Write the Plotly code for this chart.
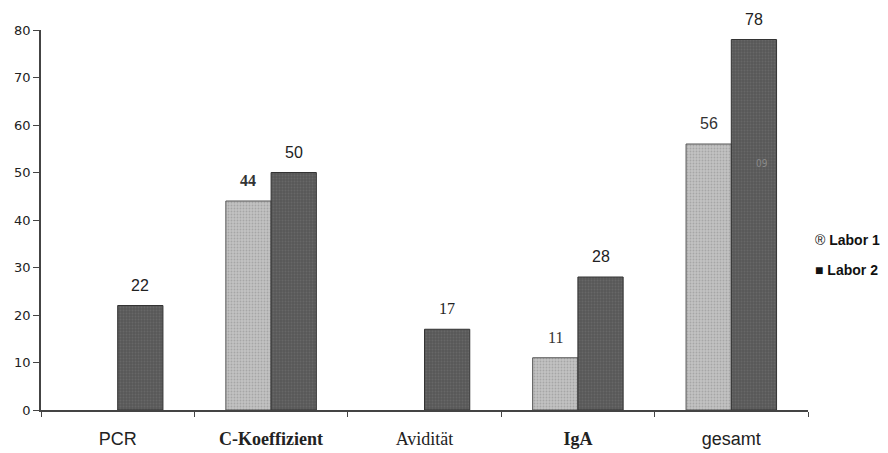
import plotly.graph_objects as go

categories = ["PCR", "C-Koeffizient", "Avidität", "IgA", "gesamt"]
tick_labels = [
    "<span style='font-family:Liberation Sans'>PCR</span>",
    "<b>C-Koeffizient</b>",
    "Avidität",
    "<b>IgA</b>",
    "<span style='font-family:Liberation Sans'>gesamt</span>",
]
labor1 = [None, 44, None, 11, 56]
labor2 = [22, 50, 17, 28, 78]
labor1_text = ["", "<b>44</b>", "", "11", "56"]
labor1_font = ["Liberation Serif", "Liberation Serif", "Liberation Serif", "Liberation Serif", "Liberation Sans"]
labor2_text = ["22", "50", "17", "28", "78"]
labor2_font = ["Liberation Sans", "Liberation Sans", "Liberation Serif", "Liberation Sans", "Liberation Sans"]

# page offset of plotly div (default body margin)
OFF = 8
W, H = 880, 445
L, R, T, B = 33, 80, 22, 43
BARGAP = 0.41

fig = go.Figure()
fig.add_trace(go.Bar(
    name="Labor 1", x=categories, y=labor1,
    marker=dict(color="#c2c2c2", line=dict(color="#555555", width=1),
                pattern=dict(shape=".", fgcolor="#8a8a8a", size=3, solidity=0.3)),
))
fig.add_trace(go.Bar(
    name="Labor 2", x=categories, y=labor2,
    marker=dict(color="#585858", line=dict(color="#333333", width=1),
                pattern=dict(shape=".", fgcolor="#757575", size=3, solidity=0.3)),
))

pw = W - L - R
ph = H - T - B
cat_w = pw / len(categories)
bar_off = (1 - BARGAP) * cat_w / 4


def px_to_paper(px, py):
    return ((px - OFF - L) / pw, 1 - (py - OFF - T) / ph)


annotations = []
for cat, val, txt, fam in zip(categories, labor1, labor1_text, labor1_font):
    if val is not None:
        annotations.append(dict(text=txt, x=cat, y=val, xref="x", yref="y",
                                xshift=-bar_off, yshift=10, yanchor="bottom",
                                showarrow=False,
                                font=dict(size=16, family=fam, color="#333333")))
for cat, val, txt, fam in zip(categories, labor2, labor2_text, labor2_font):
    annotations.append(dict(text=txt, x=cat, y=val, xref="x", yref="y",
                            xshift=bar_off, yshift=10, yanchor="bottom",
                            showarrow=False,
                            font=dict(size=16, family=fam, color="#222222")))

lx1, ly1 = px_to_paper(813, 240)
lx2, ly2 = px_to_paper(813, 270)
annotations += [
    dict(text="® <b>Labor 1</b>", x=lx1, y=ly1, xref="paper", yref="paper",
         showarrow=False, font=dict(size=14, family="Liberation Sans", color="#111111"),
         xanchor="left", yanchor="middle"),
    dict(text="■ <b>Labor 2</b>", x=lx2, y=ly2, xref="paper", yref="paper",
         showarrow=False, font=dict(size=14, family="Liberation Sans", color="#111111"),
         xanchor="left", yanchor="middle"),
    dict(text="09", x="gesamt", y=52, xref="x", yref="y", xshift=31,
         showarrow=False, font=dict(size=10, family="DejaVu Sans Condensed", color="#8a8a8a")),
]

fig.update_layout(
    width=W, height=H,
    margin=dict(l=L, r=R, t=T, b=B, autoexpand=False),
    paper_bgcolor="white", plot_bgcolor="white",
    barmode="group", bargap=BARGAP, bargroupgap=0,
    showlegend=False,
    font=dict(family="Liberation Serif", color="#222222"),
    xaxis=dict(
        tickmode="array", tickvals=categories, ticktext=tick_labels,
        tickfont=dict(size=18, color="#222222"),
        showline=True, linecolor="#444444", linewidth=1.5,
        ticks="outside", tickson="boundaries", ticklen=5, tickcolor="#444444",
        ticklabelstandoff=12, automargin=False,
        showgrid=False, zeroline=False,
    ),
    yaxis=dict(
        range=[0, 80], dtick=10,
        tickfont=dict(size=13, color="#222222", family="DejaVu Sans"),
        showline=True, linecolor="#444444", linewidth=1.5,
        ticks="outside", ticklen=6, tickcolor="#444444",
        automargin=False,
        showgrid=False, zeroline=False,
    ),
    annotations=annotations,
)

fig.write_html("out.html")
